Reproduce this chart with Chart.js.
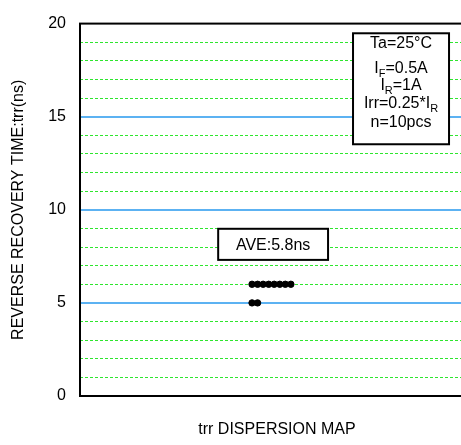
<!DOCTYPE html>
<html>
<head>
<meta charset="utf-8">
<script src="https://cdn.jsdelivr.net/npm/chart.js@4/dist/chart.umd.min.js"></script>
<style>
  html, body { margin: 0; padding: 0; background: #fff; overflow: hidden; }
  #wrap { width: 461px; height: 445px; overflow: hidden; }
  canvas { display: block; }
</style>
</head>
<body>
<div id="wrap"><canvas id="c" width="490" height="445"></canvas></div>
<script>
// trr dispersion map — 10 samples

// ── Datos ────────────────────────────────────────────────────────────────
const trrValues = [6, 6, 6, 6, 6, 6, 6, 6, 5, 5]       // ns
const samplePos = [31, 32, 33, 34, 35, 36, 37, 38, 31, 32]  // posición horizontal del punto
const yTicks = [0, 5, 10, 15, 20]
const conditions = [
  [['Ta=25°C', '']],
  [['I', ''], ['F', 'sub'], ['=0.5A', '']],
  [['I', ''], ['R', 'sub'], ['=1A', '']],
  [['Irr=0.25*I', ''], ['R', 'sub']],
  [['n=10pcs', '']]
]
const aveLabel = 'AVE:5.8ns'

const FONT = 'Arial, "Liberation Sans", sans-serif'

// ── Plugin: marco y cajas de texto ───────────────────────────────────────
function drawRich (ctx, parts, cx, y) {
  const widths = parts.map(([t, k]) => {
    ctx.font = (k === 'sub' ? '11px ' : '16px ') + FONT
    return ctx.measureText(t).width
  })
  let x = cx - widths.reduce((a, b) => a + b, 0) / 2
  parts.forEach(([t, k], i) => {
    ctx.font = (k === 'sub' ? '11px ' : '16px ') + FONT
    ctx.fillText(t, x, k === 'sub' ? y + 5 : y)
    x += widths[i]
  })
}

const overlay = {
  id: 'overlay',
  afterDraw (chart) {
    const { ctx, chartArea: a, scales: { x, y } } = chart
    ctx.save()
    // frame
    ctx.strokeStyle = '#000'
    ctx.lineWidth = 2
    ctx.strokeRect(a.left, a.top, a.right - a.left, a.bottom - a.top)

    ctx.fillStyle = '#000'
    ctx.textAlign = 'left'
    ctx.textBaseline = 'middle'

    // condition box
    const bx0 = x.getPixelForValue(49.2), bx1 = x.getPixelForValue(66.5)
    const by0 = y.getPixelForValue(19.48), by1 = y.getPixelForValue(13.52)
    ctx.fillStyle = '#fff'
    ctx.fillRect(bx0, by0, bx1 - bx0, by1 - by0)
    ctx.strokeRect(bx0, by0, bx1 - bx0, by1 - by0)
    ctx.fillStyle = '#000'
    const lineY = [44, 69, 86, 104, 123]
    conditions.forEach((parts, i) => drawRich(ctx, parts, (bx0 + bx1) / 2, lineY[i]))

    // AVE box
    const ax0 = x.getPixelForValue(24.9), ax1 = x.getPixelForValue(44.7)
    const ay0 = y.getPixelForValue(8.98), ay1 = y.getPixelForValue(7.31)
    ctx.fillStyle = '#fff'
    ctx.fillRect(ax0, ay0, ax1 - ax0, ay1 - ay0)
    ctx.strokeRect(ax0, ay0, ax1 - ax0, ay1 - ay0)
    ctx.fillStyle = '#000'
    ctx.font = '16px ' + FONT
    ctx.textAlign = 'center'
    ctx.fillText(aveLabel, (ax0 + ax1) / 2, (ay0 + ay1) / 2 + 1)
    ctx.restore()
  }
}

// ── Gráfica ──────────────────────────────────────────────────────────────
const points = trrValues.map((v, i) => ({ x: samplePos[i], y: v }))

new Chart(document.getElementById('c'), {
  type: 'scatter',
  data: {
    datasets: [{
      data: points,
      backgroundColor: '#000',
      borderColor: '#000',
      pointRadius: 3.2,
      pointHoverRadius: 3.2
    }]
  },
  options: {
    responsive: false,
    animation: false,
    events: [],
    layout: { padding: { top: 13, right: 16, left: 0, bottom: 0 } },
    plugins: { legend: { display: false }, tooltip: { enabled: false } },
    scales: {
      x: {
        type: 'linear',
        min: 0,
        max: 71,
        ticks: { display: false },
        grid: { display: false },
        border: { display: false },
        title: {
          display: true,
          text: 'trr DISPERSION MAP',
          color: '#000',
          font: { family: FONT, size: 16 },
          padding: { top: 0, bottom: 6 }
        },
        afterFit: (s) => { s.height = 49 }
      },
      yMinor: {
        type: 'linear',
        position: 'left',
        min: 0,
        max: 20,
        ticks: { display: false, stepSize: 1 },
        grid: {
          drawTicks: false,
          lineWidth: 1,
          color: (c) => (c.tick && c.tick.value % 5 === 0) ? 'rgba(0,0,0,0)' : '#2ee62e'
        },
        border: { display: false, dash: [3, 2] },
        afterFit: (s) => { s.width = 0 }
      },
      y: {
        type: 'linear',
        position: 'left',
        min: 0,
        max: 20,
        afterBuildTicks: (s) => { s.ticks = yTicks.map(v => ({ value: v })) },
        ticks: {
          color: '#000',
          padding: 14,
          font: { family: FONT, size: 16 }
        },
        grid: {
          drawTicks: false,
          lineWidth: 2,
          color: (c) => (c.tick && (c.tick.value === 0 || c.tick.value === 20)) ? 'rgba(0,0,0,0)' : '#5cb2f2'
        },
        border: { display: false },
        title: {
          display: true,
          text: 'REVERSE RECOVERY TIME:trr(ns)',
          color: '#000',
          font: { family: FONT, size: 16 },
          padding: { top: 9, bottom: 0 }
        },
        afterFit: (s) => { s.width = 80 }
      }
    }
  },
  plugins: [overlay]
})
</script>
</body>
</html>
